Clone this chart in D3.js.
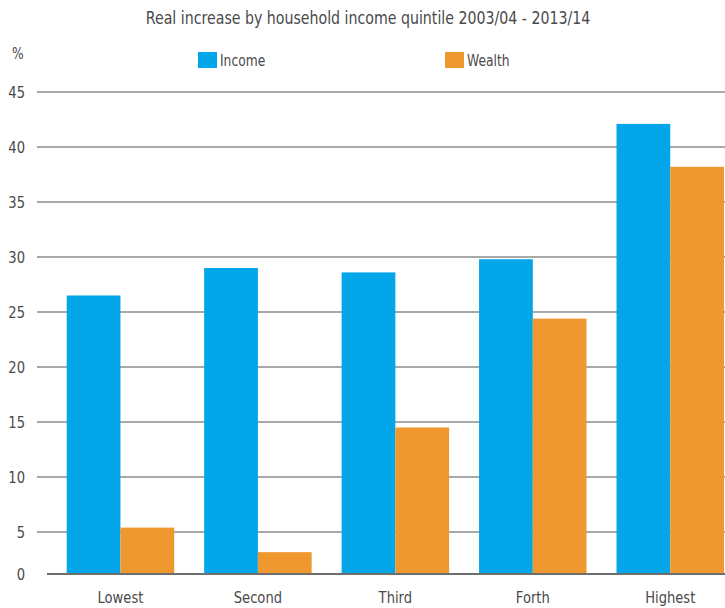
<!DOCTYPE html>
<html>
<head>
<meta charset="utf-8">
<script src="https://cdn.jsdelivr.net/npm/d3@7"></script>
<style>
  html, body { margin: 0; padding: 0; background: #fff; }
  svg { display: block; }
  text { font-family: "DejaVu Sans", sans-serif; fill: #4a4a4a; }
</style>
</head>
<body>
<div id="chart"></div>
<script>
// Real increase (%) by household income quintile, 2003/04 - 2013/14
const quintiles = ["Lowest", "Second", "Third", "Forth", "Highest"];
const seriesNames = ["Income", "Wealth"];
const incomeValues = [26.5, 29.0, 28.6, 29.8, 42.1];
const wealthValues = [5.4, 2.6, 14.5, 24.4, 38.2];
const yTicks = [0, 5, 10, 15, 20, 25, 30, 35, 40, 45];
const titleText = "Real increase by household income quintile 2003/04 - 2013/14";
const unitLabel = "%";

const colors = { Income: "#03a6e8", Wealth: "#ef982f" };

const width = 725, height = 608;
const narrow = 0.82;   // horizontal squeeze for a condensed look
const svg = d3.select("#chart").append("svg")
  .attr("width", width).attr("height", height);

const rows = quintiles.map((q, i) => ({ q, Income: incomeValues[i], Wealth: wealthValues[i] }));

// Value axis: the first step (0-5) is drawn compressed, the rest evenly spaced
const y = d3.scaleLinear().domain([0, 5, 45]).range([574, 532, 92]);

const x0 = d3.scaleBand().domain(quintiles).range([66.7, 724]).paddingInner(0.218).paddingOuter(0);
const x1 = d3.scaleBand().domain(seriesNames).range([0, x0.bandwidth()]).padding(0);

// Title
svg.append("text")
  .attr("transform", "translate(368,24) scale(0.81,1)")
  .attr("text-anchor", "middle")
  .style("font-size", "17.5px")
  .text(titleText);

// Unit label
svg.append("text")
  .attr("transform", `translate(12,59) scale(${narrow},1)`)
  .style("font-size", "15px")
  .text(unitLabel);

// Legend
const legendX = [198, 445];
const legend = svg.append("g").selectAll("g").data(seriesNames).join("g")
  .attr("transform", (d, i) => `translate(${legendX[i]},52)`);
legend.append("rect").attr("width", 19).attr("height", 16).attr("fill", d => colors[d]);
legend.append("text")
  .attr("transform", `translate(22,14) scale(${narrow},1)`)
  .style("font-size", "15px")
  .text(d => d);

// Gridlines and tick labels
const grid = svg.append("g");
grid.selectAll("line").data(yTicks.filter(t => t > 0)).join("line")
  .attr("x1", 37).attr("x2", width)
  .attr("y1", d => y(d)).attr("y2", d => y(d))
  .attr("stroke", "#8c8c8c").attr("stroke-width", 1.5);

svg.append("g").selectAll("text").data(yTicks).join("text")
  .attr("transform", d => `translate(25,${y(d)}) scale(${narrow},1)`)
  .attr("dy", "0.35em")
  .attr("text-anchor", "end")
  .style("font-size", "16px")
  .text(d => d);

// Bars
const groups = svg.append("g").selectAll("g").data(rows).join("g")
  .attr("transform", d => `translate(${x0(d.q)},0)`);
groups.selectAll("rect")
  .data(d => seriesNames.map(k => ({ k, v: d[k] })))
  .join("rect")
  .attr("x", d => x1(d.k))
  .attr("width", x1.bandwidth())
  .attr("y", d => y(d.v))
  .attr("height", d => y(0) - y(d.v))
  .attr("fill", d => colors[d.k]);

// Baseline
svg.append("line")
  .attr("x1", 47).attr("x2", width)
  .attr("y1", y(0)).attr("y2", y(0))
  .attr("stroke", "#6e6e6e").attr("stroke-width", 2);

// Category labels
const xAxis = d3.axisBottom(x0).tickSize(0).tickPadding(0);
const xg = svg.append("g").attr("transform", `translate(0,${y(0)})`).call(xAxis);
xg.select(".domain").remove();
xg.selectAll("text")
  .attr("y", 0)
  .attr("dy", 0)
  .attr("transform", `translate(0,29) scale(${narrow},1)`)
  .style("font-size", "16px")
  .style("font-family", "\"DejaVu Sans\", sans-serif")
  .attr("fill", "#4a4a4a");
</script>
</body>
</html>
